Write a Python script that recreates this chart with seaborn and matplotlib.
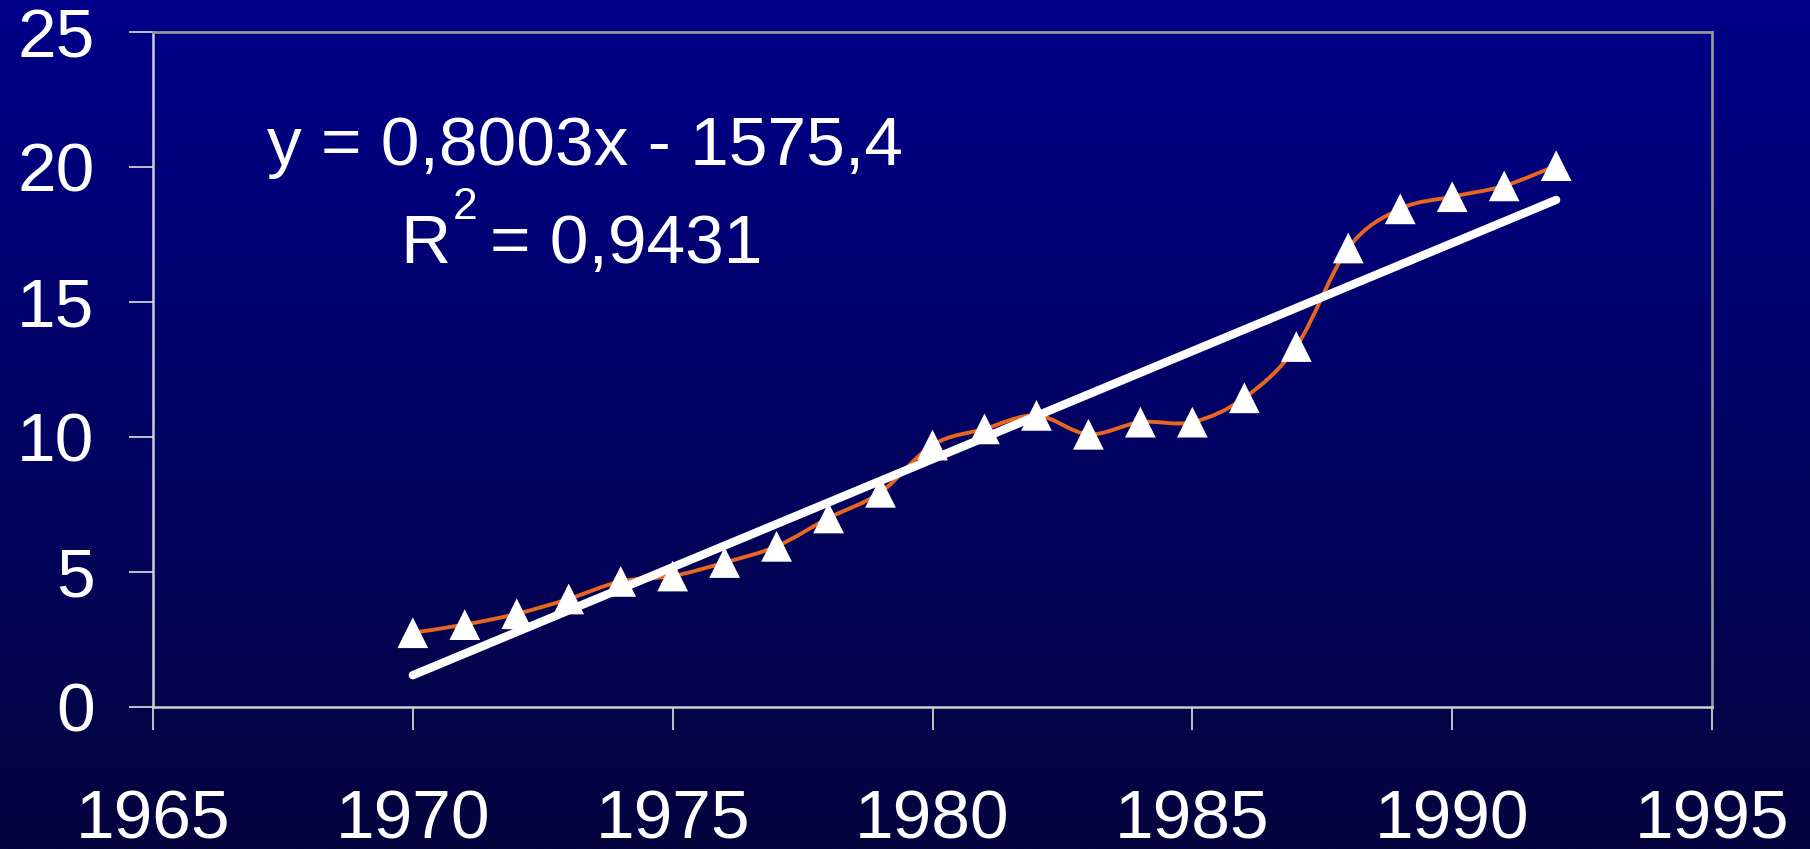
import numpy as np
import pandas as pd
import matplotlib
matplotlib.use("Agg")
import matplotlib.pyplot as plt
from matplotlib.path import Path
from matplotlib.patches import PathPatch
import seaborn as sns

# ---- data ----
years = [1970, 1971, 1972, 1973, 1974, 1975, 1976, 1977, 1978, 1979, 1980,
         1981, 1982, 1983, 1984, 1985, 1986, 1987, 1988, 1989, 1990, 1991, 1992]
values = [2.75, 3.05, 3.45, 4.0, 4.65, 4.85, 5.35, 5.95, 7.0, 7.95, 9.7,
          10.3, 10.8, 10.1, 10.55, 10.55, 11.45, 13.35, 17.0, 18.45, 18.9, 19.3, 20.05]
x_ticks = [1965, 1970, 1975, 1980, 1985, 1990, 1995]
y_ticks = [0, 5, 10, 15, 20, 25]
equation_text = "y = 0,8003x - 1575,4"
r2_base = "R"
r2_sup = "2"
r2_rest = "= 0,9431"

df = pd.DataFrame({"year": years, "value": values})

sns.set_style("ticks")
plt.rcParams["font.family"] = ["Liberation Sans", "DejaVu Sans"]

fig = plt.figure(figsize=(18.1, 8.49), dpi=100)

# gradient background
bg = fig.add_axes([0, 0, 1, 1], zorder=-10)
top = np.array([0, 0, 138]) / 255
bot = np.array([4, 4, 62]) / 255
t = np.linspace(0, 1, 256)[:, None]
grad = (top[None, :] * (1 - t) + bot[None, :] * t)[:, None, :]
bg.imshow(grad, aspect="auto", extent=[0, 1, 0, 1], interpolation="bilinear")
bg.axis("off")

ax = fig.add_axes([0.0845, 0.1673, 0.9459 - 0.0845, 0.9623 - 0.1673])
ax.set_facecolor("none")

# smoothed (Excel-like Bezier) orange line
xs = np.asarray(years, dtype=float)
ys = np.asarray(values, dtype=float)
verts = [(xs[0], ys[0])]
codes = [Path.MOVETO]
n = len(xs)
for i in range(n - 1):
    p0 = np.array([xs[max(i - 1, 0)], ys[max(i - 1, 0)]])
    p1 = np.array([xs[i], ys[i]])
    p2 = np.array([xs[i + 1], ys[i + 1]])
    p3 = np.array([xs[min(i + 2, n - 1)], ys[min(i + 2, n - 1)]])
    c1 = p1 + (p2 - p0) / 6.0
    c2 = p2 - (p3 - p1) / 6.0
    verts += [tuple(c1), tuple(c2), tuple(p2)]
    codes += [Path.CURVE4] * 3
ax.add_patch(PathPatch(Path(verts, codes), facecolor="none",
                       edgecolor="#E8661E", lw=2.8, zorder=2))

# linear trend line
sns.regplot(data=df, x="year", y="value", ax=ax, scatter=False, ci=None,
            truncate=True,
            line_kws=dict(color="white", lw=6, solid_capstyle="round", zorder=3))

# markers
sns.scatterplot(data=df, x="year", y="value", ax=ax, marker="^", s=490,
                color="white", edgecolor="none", linewidth=0, zorder=4)

ax.set_xlim(1965, 1995)
ax.set_ylim(0, 25)
ax.set_xticks(x_ticks)
ax.set_yticks(y_ticks)
ax.set_xticklabels([str(v) for v in x_ticks])
ax.set_yticklabels([str(v) for v in y_ticks])
ax.set_xlabel("")
ax.set_ylabel("")

for side in ["top", "right"]:
    ax.spines[side].set_visible(True)
    ax.spines[side].set_color("#959595")
    ax.spines[side].set_linewidth(2)
for side in ["left", "bottom"]:
    ax.spines[side].set_color("#cfcfcf")
    ax.spines[side].set_linewidth(1.8)

ax.tick_params(axis="x", direction="out", length=16.5, width=1.3, color="#cfcfcf",
               pad=42, labelsize=50, labelcolor="white")
ax.tick_params(axis="y", direction="out", length=17, width=1.3, color="#cfcfcf",
               pad=25, labelsize=50, labelcolor="white")

ax.text(1967.19, 20.07, equation_text, color="white", fontsize=50,
        ha="left", va="baseline", zorder=5)
tR = ax.text(1969.75, 16.44, r2_base, color="white", fontsize=50,
             ha="left", va="baseline", zorder=5)
ax.annotate(r2_sup, xy=(1, 1), xycoords=tR, xytext=(3, -6),
            textcoords="offset pixels", color="white", fontsize=32,
            ha="left", va="baseline", zorder=5)
ax.annotate(r2_rest, xy=(1, 0), xycoords=tR, xytext=(40, 0),
            textcoords="offset pixels", color="white", fontsize=50,
            ha="left", va="bottom", zorder=5)

fig.savefig("out.png", dpi=100)
